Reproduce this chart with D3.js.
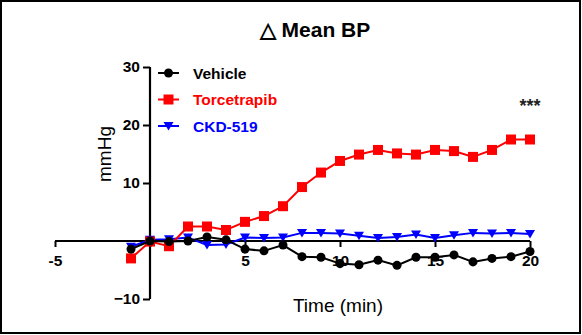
<!DOCTYPE html>
<html>
<head>
<meta charset="utf-8">
<script src="https://cdn.jsdelivr.net/npm/d3@7"></script>
<style>
  body { margin: 0; background: #fff; }
  text { font-family: "Liberation Sans", Arial, sans-serif; font-weight: bold; }
</style>
</head>
<body>
<div id="chart"></div>
<script>
// Data (time in min, change in mmHg)
const times = [-1, 0, 1, 2, 3, 4, 5, 6, 7, 8, 9, 10, 11, 12, 13, 14, 15, 16, 17, 18, 19, 20];
const vehicle = [-1.4, 0, -0.1, 0, 0.7, 0.2, -1.4, -1.7, -0.7, -2.7, -2.8, -3.9, -4.1, -3.3, -4.2, -2.8, -2.8, -2.4, -3.6, -3.0, -2.7, -1.8];
const torcetrapib = [-3.0, -0.1, -0.9, 2.5, 2.5, 1.9, 3.3, 4.3, 6.0, 9.3, 11.8, 13.8, 14.9, 15.7, 15.1, 14.9, 15.7, 15.5, 14.5, 15.7, 17.5, 17.5];
const ckd519 = [-1.0, 0.2, 0.3, 0.6, -0.7, -0.6, 0.6, 0.5, 0.6, 1.4, 1.4, 1.3, 0.9, 0.5, 0.7, 1.1, 0.5, 1.0, 1.4, 1.3, 1.4, 1.2];
const seriesNames = ["Vehicle", "Torcetrapib", "CKD-519"];
const seriesColors = ["#000000", "#ff0000", "#0000ff"];
const xTicks = [-5, 0, 5, 10, 15, 20];
const xTickLabels = ["-5", "", "5", "10", "15", "20"];
const yTicks = [-10, 10, 20, 30];

const W = 582, H = 335;
const svg = d3.select("#chart").append("svg").attr("width", W).attr("height", H);

// Frame
svg.append("rect").attr("x", 1).attr("y", 1).attr("width", W - 3).attr("height", H - 3)
  .attr("fill", "#fff").attr("stroke", "#000").attr("stroke-width", 2);

const x = d3.scaleLinear().domain([-5, 20]).range([55, 530]);
const y = d3.scaleLinear().domain([-10, 30]).range([299, 67]);

// Y axis
const yAxis = svg.append("g").attr("transform", `translate(${x(0)},0)`)
  .call(d3.axisLeft(y).tickValues(yTicks).tickSize(7).tickSizeOuter(0).tickPadding(3));
yAxis.select(".domain").attr("stroke-width", 2.2).attr("d", `M0,${y(30)}V${y(-10)}`);
yAxis.selectAll(".tick line").attr("stroke-width", 2);
yAxis.selectAll("text").style("font-size", "15.5px").attr("fill", "#000")
  .style("font-family", "Liberation Sans, Arial").style("font-weight", "bold");

// X axis
const xAxis = svg.append("g").attr("transform", `translate(0,${y(0)})`)
  .call(d3.axisBottom(x).tickValues(xTicks).tickFormat((d, i) => xTickLabels[i]).tickSize(6).tickSizeOuter(0).tickPadding(8));
xAxis.select(".domain").attr("stroke-width", 2.2).attr("d", `M${x(-5)},0H${x(20)}`);
xAxis.selectAll(".tick line").attr("stroke-width", 2);
xAxis.selectAll("text").style("font-size", "15.5px").attr("fill", "#000")
  .style("font-family", "Liberation Sans, Arial").style("font-weight", "bold");

const line = d3.line().x((d, i) => x(times[i])).y(d => y(d));

const circle = d3.symbol().type(d3.symbolCircle).size(64);
const square = d3.symbol().type(d3.symbolSquare).size(100);
const triDown = d3.symbol().type({
  draw(ctx, size) {
    const s = Math.sqrt(size);
    ctx.moveTo(-s / 2, -s * 0.4);
    ctx.lineTo(s / 2, -s * 0.4);
    ctx.lineTo(0, s * 0.45);
    ctx.closePath();
  }
}).size(100);
const symbols = [circle, square, triDown];
const allSeries = [vehicle, torcetrapib, ckd519];

// Draw order: blue, red, black on top
[2, 1, 0].forEach(k => {
  const vals = allSeries[k];
  svg.append("path").datum(vals).attr("d", line)
    .attr("fill", "none").attr("stroke", seriesColors[k]).attr("stroke-width", 2);
  svg.selectAll(`.pt-${k}`).data(vals).join("path")
    .attr("class", `pt-${k}`)
    .attr("transform", (d, i) => `translate(${x(times[i])},${y(d)})`)
    .attr("d", symbols[k])
    .attr("fill", seriesColors[k]);
});

// Legend
const legend = svg.append("g").attr("transform", "translate(158,73)");
seriesNames.forEach((name, i) => {
  const row = legend.append("g").attr("transform", `translate(0,${i * 26.5})`);
  row.append("line").attr("x1", 0).attr("x2", 21).attr("y1", 0).attr("y2", 0)
    .attr("stroke", seriesColors[i]).attr("stroke-width", 2);
  row.append("path").attr("transform", "translate(10.5,0)").attr("d", symbols[i])
    .attr("fill", seriesColors[i]);
  row.append("text").attr("x", 35).attr("y", 5.5).style("font-size", "15.5px")
    .attr("fill", seriesColors[i]).text(name);
});

// Title
svg.append("text").attr("x", 315).attr("y", 37).attr("text-anchor", "middle")
  .style("font-size", "21px").text("△ Mean BP");

// Significance
svg.append("text").attr("x", 530).attr("y", 112).attr("text-anchor", "middle")
  .style("font-size", "18px").attr("fill", "#222").text("***");

// Axis titles
svg.append("text").attr("transform", "translate(111,154) rotate(-90)")
  .attr("text-anchor", "middle").style("font-size", "19px").style("font-weight", "normal").text("mmHg");
svg.append("text").attr("x", 338).attr("y", 312).attr("text-anchor", "middle")
  .style("font-size", "19px").style("font-weight", "normal").text("Time (min)");
</script>
</body>
</html>
